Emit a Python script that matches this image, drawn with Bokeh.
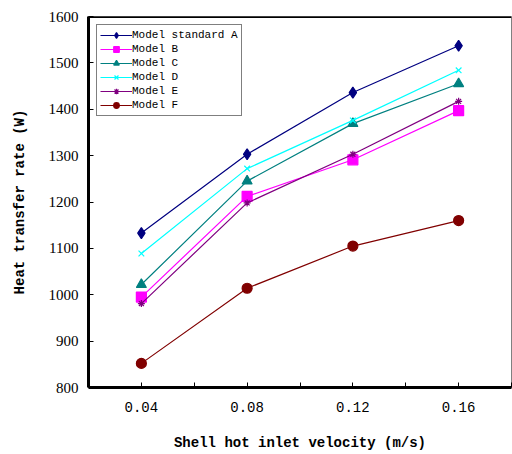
from bokeh.plotting import figure
from bokeh.models import FixedTicker, Span, Range1d
from bokeh.embed import file_html
from bokeh.resources import INLINE

velocity = [0.04, 0.08, 0.12, 0.16]
model_a = [1133, 1303, 1436, 1537]
model_b = [995, 1212, 1291, 1397]
model_c = [1022, 1245, 1369, 1455]
model_d = [1089, 1272, 1376, 1484]
model_e = [981, 1198, 1303, 1417]
model_f = [852, 1014, 1105, 1160]

series = [
    ("Model standard A", model_a, "#000080", "diamond", 11),
    ("Model B", model_b, "#FF00FF", "square", 10),
    ("Model C", model_c, "#008080", "triangle", 10),
    ("Model D", model_d, "#00FFFF", "x", 8),
    ("Model E", model_e, "#800080", "asterisk", 7),
    ("Model F", model_f, "#800000", "circle", 10),
]

p = figure(width=512, height=454, output_backend="svg", toolbar_location=None,
           x_range=Range1d(0.02, 0.18), y_range=Range1d(800, 1600),
           min_border_left=88, min_border_top=16, min_border_right=1, min_border_bottom=67)
p.background_fill_color = "white"
p.border_fill_color = "white"
p.outline_line_color = "#808080"
p.outline_line_width = 1
p.grid.visible = False

for name, vals, col, mk, sz in series:
    p.line(velocity, vals, color=col, line_width=1.2, legend_label=name)
    p.scatter(velocity, vals, marker=mk, size=sz, color=col, line_color=col,
              fill_color=col, line_width=1.2, legend_label=name)

p.xaxis.ticker = FixedTicker(ticks=[0.04, 0.08, 0.12, 0.16], minor_ticks=[0.02, 0.06, 0.10, 0.14, 0.18])
p.yaxis.ticker = FixedTicker(ticks=[800, 900, 1000, 1100, 1200, 1300, 1400, 1500, 1600], minor_ticks=[])
p.xaxis.major_label_overrides = {0.04: "0.04", 0.08: "0.08", 0.12: "0.12", 0.16: "0.16"}

for ax in (p.xaxis[0], p.yaxis[0]):
    ax.axis_line_width = 3
    ax.axis_line_color = "black"
    ax.major_tick_in = 5
    ax.major_tick_out = 0
    ax.minor_tick_in = 5
    ax.minor_tick_out = 0
    ax.major_tick_line_color = "black"
    ax.minor_tick_line_color = "black"
    ax.major_label_text_color = "black"
    ax.axis_label_text_color = "black"
    ax.axis_label_text_font_style = "bold"
    ax.axis_label_text_font = "Liberation Mono"
    ax.axis_label_text_font_size = "14px"

p.yaxis.major_label_text_font = "Liberation Serif"
p.yaxis.major_label_text_font_size = "15px"
p.yaxis.major_label_standoff = 10
p.xaxis.major_label_text_font = "Liberation Mono"
p.xaxis.major_label_text_font_size = "14px"
p.xaxis.major_label_standoff = 14

p.xaxis.axis_label = "Shell hot inlet velocity (m/s)"
p.yaxis.axis_label = "Heat transfer rate (W)"
p.xaxis.axis_label_standoff = 20
p.yaxis.axis_label_standoff = 18

p.add_layout(Span(location=1600, dimension="width", line_color="black", line_width=3))

lg = p.legend[0]
lg.location = "top_left"
lg.margin = 8
lg.padding = 3
lg.spacing = 0
lg.label_height = 12
lg.glyph_height = 14
lg.glyph_width = 32
lg.label_standoff = 0
lg.label_text_font = "Liberation Mono"
lg.label_text_font_size = "11px"
lg.label_text_color = "black"
lg.border_line_color = "black"
lg.border_line_width = 1
lg.background_fill_alpha = 1

open("out.html", "w").write(file_html(p, INLINE))
